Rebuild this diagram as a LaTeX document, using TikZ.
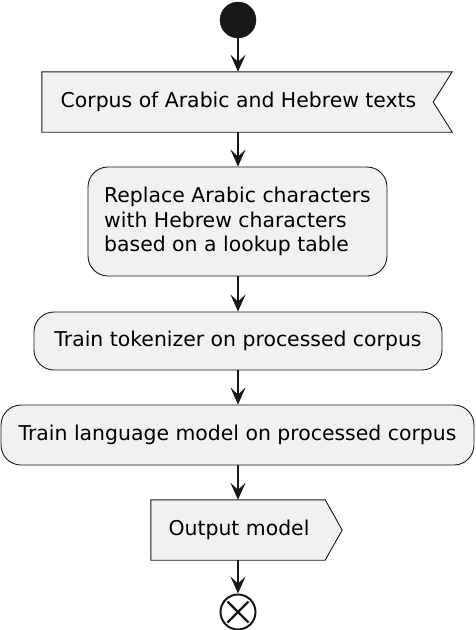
\documentclass[tikz,border=0pt]{standalone}
\usepackage{fontspec}
\setmainfont{DejaVu Sans}
\usetikzlibrary{arrows.meta,backgrounds,calc}
\definecolor{lc}{HTML}{181818}
\definecolor{bg}{HTML}{F1F1F1}
\begin{document}
\begin{tikzpicture}[x=1pt,y=-1pt,
  shp/.style={draw=lc, fill=bg, line width=0.9pt},
  box/.style={shp, rounded corners=20pt, inner sep=0pt, align=center, lbl},
  ghost/.style={inner sep=0pt, draw=none},
  lbl/.style={font=\fontsize{20.4}{24.5}\selectfont, text=black},
  flow/.style={draw=lc, line width=1.6pt, -{Stealth[length=17pt,width=15pt,inset=7pt]}}
]
\useasboundingbox (0,0) rectangle (476,630);
% start
\node[circle, fill=lc, draw=lc, minimum size=36pt, inner sep=0pt] (st) at (238,20) {};
% input (receive)
\node[ghost, minimum width=410pt, minimum height=60pt] (b1) at (247,102) {};
\node[lbl, inner sep=0pt] (b1t) at (238.5,102) {Corpus of Arabic and Hebrew texts};
\begin{scope}[on background layer]
\path[shp] (b1.north west) -- (b1.north east) -- ($(b1.east)+(-19,0)$) -- (b1.south east) -- (b1.south west) -- cycle;
\end{scope}
% replace
\node[box, minimum width=299pt, minimum height=109pt, align=left] (b2) at (237.5,221.5) {Replace Arabic characters\\with Hebrew characters\\based on a lookup table};
% tokenizer
\node[box, minimum width=408pt, minimum height=58pt] (b3) at (238,341) {Train tokenizer on processed corpus};
% LM
\node[box, minimum width=473pt, minimum height=60pt] (b4) at (237.5,435) {Train language model on processed corpus};
% output (send)
\node[ghost, minimum width=174pt, minimum height=60pt] (b5) at (238,530) {};
\node[lbl, inner sep=0pt] (b5t) at (239,530) {Output model};
\begin{scope}[on background layer]
\path[shp] (b5.north west) -- (b5.north east) -- ($(b5.east)+(17,0)$) -- (b5.south east) -- (b5.south west) -- cycle;
\end{scope}
% end
\node[circle, draw=lc, fill=white, line width=2pt, minimum size=35pt, inner sep=0pt] (en) at (238,612) {};
\draw[lc, line width=2.2pt] ($(en.center)+(-10.5,-10.5)$) -- ($(en.center)+(10.5,10.5)$);
\draw[lc, line width=2.2pt] ($(en.center)+(10.5,-10.5)$) -- ($(en.center)+(-10.5,10.5)$);
% connectors
\draw[flow] (st.south) -- (st.south |- b1.north);
\draw[flow] (st.south |- b1.south) -- (st.south |- b2.north);
\draw[flow] (st.south |- b2.south) -- (st.south |- b3.north);
\draw[flow] (st.south |- b3.south) -- (st.south |- b4.north);
\draw[flow] (st.south |- b4.south) -- (st.south |- b5.north);
\draw[flow] (st.south |- b5.south) -- (en.north);
\end{tikzpicture}
\end{document}
